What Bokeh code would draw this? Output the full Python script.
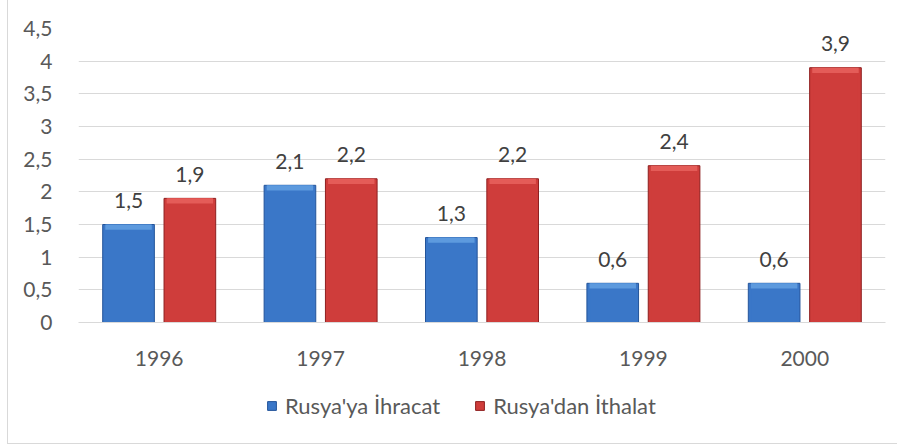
from bokeh.plotting import figure
from bokeh.layouts import column
from bokeh.models import (ColumnDataSource, FixedTicker, CustomJSTickFormatter, Legend,
                          LegendItem, FactorRange, Range1d)
from bokeh.transform import dodge
from bokeh.core.properties import value
from bokeh.embed import file_html
from bokeh.resources import INLINE

years = ["1996", "1997", "1998", "1999", "2000"]
ihracat = [1.5, 2.1, 1.3, 0.6, 0.6]
ithalat = [1.9, 2.2, 2.2, 2.4, 3.9]
series_names = ["Rusya'ya İhracat", "Rusya'dan İthalat"]
y_ticks = [0, 0.5, 1, 1.5, 2, 2.5, 3, 3.5, 4, 4.5]

FONT = "Lato"
BLUE_MAIN, BLUE_EDGE, BLUE_TOP = "#3a77c8", "#23549a", "#5d9ade"
RED_MAIN, RED_EDGE, RED_TOP = "#cf3d3b", "#8e1f1f", "#e45c58"

def fmt(v):
    return f"{v:g}".replace(".", ",")

src = ColumnDataSource(dict(
    x=years,
    a=ihracat, b=ithalat,
    a_top=[v - 0.08 for v in ihracat], b_top=[v - 0.08 for v in ithalat],
    a_lbl=[fmt(v) for v in ihracat], b_lbl=[fmt(v) for v in ithalat],
))

p = figure(width=889, height=370, x_range=FactorRange(*years, range_padding=0),
           y_range=Range1d(0, 4.5), output_backend="svg", toolbar_location=None,
           min_border_left=70, min_border_right=12, min_border_top=28, min_border_bottom=48)
p.outline_line_color = None
p.background_fill_color = "white"
p.border_fill_color = "white"

OFF, W = 0.19, 0.32
xa = dodge("x", -OFF, range=p.x_range)
xb = dodge("x", OFF, range=p.x_range)

p.vbar(x=xa, top="a", width=W, source=src, fill_color=BLUE_MAIN, line_color=BLUE_EDGE, line_width=1)
p.vbar(x=xa, top="a", width=W * 0.86, source=src, fill_color=BLUE_MAIN, line_color=None)
p.vbar(x=xa, top="a", bottom="a_top", width=W * 0.9, source=src, fill_color=BLUE_TOP, line_color=None)

p.vbar(x=xb, top="b", width=W, source=src, fill_color=RED_MAIN, line_color=RED_EDGE, line_width=1)
p.vbar(x=xb, top="b", width=W * 0.86, source=src, fill_color=RED_MAIN, line_color=None)
p.vbar(x=xb, top="b", bottom="b_top", width=W * 0.9, source=src, fill_color=RED_TOP, line_color=None)

for xx, col in ((xa, "a"), (xb, "b")):
    p.text(x=xx, y=col, text=col + "_lbl", source=src, text_align="center", text_baseline="alphabetic",
           y_offset=-24, text_font=value(FONT), text_font_size="21px", text_color="#404040")

p.xgrid.grid_line_color = None
p.ygrid.grid_line_color = "#d9d9d9"
p.ygrid.grid_line_width = 1

p.yaxis.ticker = FixedTicker(ticks=y_ticks)
p.yaxis.formatter = CustomJSTickFormatter(code="return tick.toString().replace('.', ',');")
p.yaxis.axis_line_color = None
p.yaxis.major_tick_line_color = None
p.yaxis.minor_tick_line_color = None
p.yaxis.major_label_standoff = 20

p.xaxis.axis_line_color = "#d9d9d9"
p.xaxis.major_tick_line_color = None
p.xaxis.major_label_standoff = 22

for ax in (p.xaxis, p.yaxis):
    ax.major_label_text_font = FONT
    ax.major_label_text_font_size = "21px"
    ax.major_label_text_color = "#595959"

# legend strip below the chart
lg = figure(width=889, height=73, x_range=Range1d(0, 1), y_range=Range1d(0, 1),
            output_backend="svg", toolbar_location=None,
            min_border_left=0, min_border_right=0, min_border_top=0, min_border_bottom=0)
lg.axis.visible = False
lg.grid.visible = False
lg.outline_line_color = None
la = lg.vbar(x=[-5], top=[-5], width=0.1, fill_color=BLUE_MAIN, line_color=BLUE_EDGE)
lb = lg.vbar(x=[-5], top=[-5], width=0.1, fill_color=RED_MAIN, line_color=RED_EDGE)
legend = Legend(items=[LegendItem(label=series_names[0], renderers=[la]),
                       LegendItem(label=series_names[1], renderers=[lb])],
                orientation="horizontal", location=(188, 24),
                border_line_color=None, background_fill_alpha=0, padding=0, margin=0,
                spacing=34, label_standoff=8, glyph_width=11, glyph_height=11,
                label_text_font=FONT, label_text_font_size="22px", label_text_color="#595959")
lg.add_layout(legend)

layout = column(p, lg, spacing=0,
                styles={"margin-left": "7px", "border-left": "1px solid #d9d9d9",
                        "border-bottom": "1px solid #d9d9d9"})

open("out.html", "w").write(file_html(layout, INLINE))
